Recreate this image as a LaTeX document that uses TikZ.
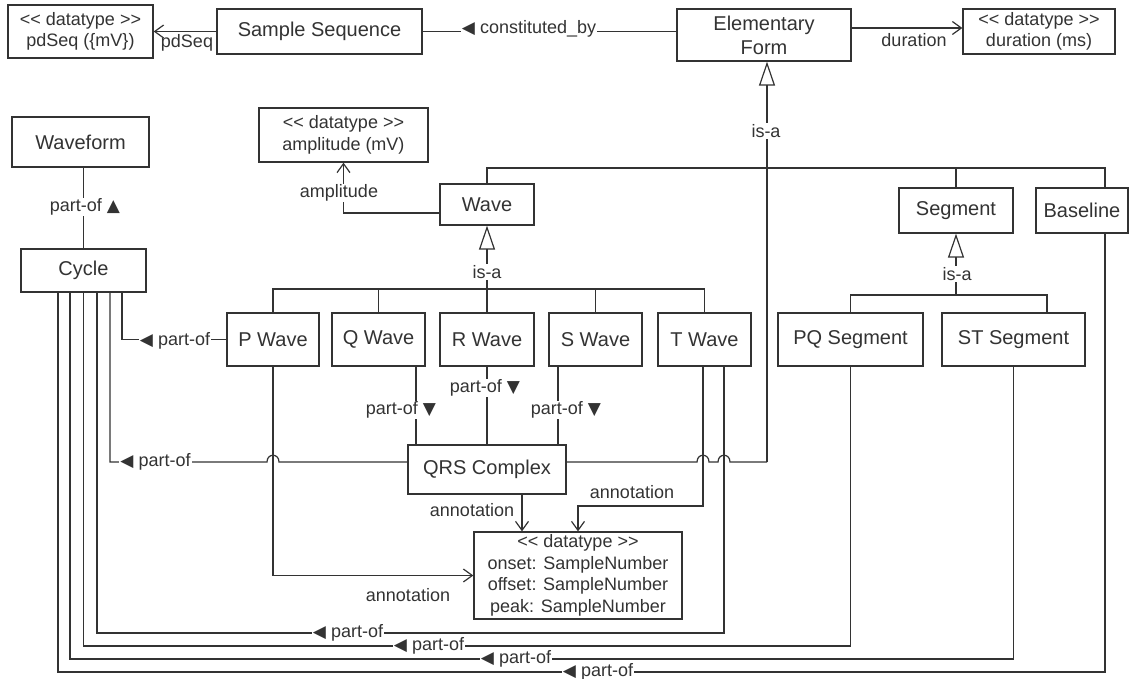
\documentclass[tikz,border=0pt]{standalone}
\usepackage{fontspec}
\setmainfont{Liberation Sans}
\newfontfamily\ecgsym{DejaVu Sans}
\usetikzlibrary{arrows.meta,calc}
\newcommand{\ecgdt}{\textless\kern0pt\textless\ datatype \textgreater\kern0pt\textgreater}
\newcommand{\ecgl}{{\ecgsym\fontsize{17}{17}\selectfont ◀}}
\newcommand{\ecgu}{{\ecgsym\fontsize{17}{17}\selectfont ▲}}
\newcommand{\ecgd}{{\ecgsym\fontsize{17}{17}\selectfont ▼}}
\tikzset{
  ecg class/.style={
    draw=black!80,line width=1.3pt,fill=white,inner sep=0pt,
    font=\fontsize{20}{24}\selectfont,text=black!80,align=center
  },
  ecg type/.style={ecg class,font=\fontsize{18}{21.5}\selectfont},
  ecg edge/.style={black!80,line width=1.2pt},
  ecg arrow/.style={ecg edge,-{Straight Barb[length=9pt,width=13pt]}},
  ecg isa/.style={ecg edge,-{Triangle[open,length=24pt,width=16pt]}},
  ecg label/.style={font=\fontsize{18}{21.5}\selectfont,text=black!80,inner sep=1pt},
  ecg gap/.style={ecg label,fill=white}
}

\begin{document}
\begin{tikzpicture}[x=1pt,y=-1pt]
  \useasboundingbox (0,0) rectangle (1145,679);
  % top row
  \node[ecg type,minimum width=145,minimum height=53] (pdseq) at (80.5,31.5) {\ecgdt\\pdSeq (\{mV\})};
  \node[ecg class,minimum width=205,minimum height=45] (sampleseq) at (319.5,31.5) {Sample Sequence};
  \node[ecg class,minimum width=174,minimum height=52] (elemform) at (764,35) {Elementary\\Form};
  \node[ecg type,minimum width=152,minimum height=45] (durtype) at (1039,31.5) {\ecgdt\\duration (ms)};
  % waves and segments
  \node[ecg class,minimum width=137,minimum height=50] (waveform) at (80.5,142) {Waveform};
  \node[ecg type,minimum width=169,minimum height=54] (amptype) at (343.5,135) {\ecgdt\\amplitude (mV)};
  \node[ecg class,minimum width=94,minimum height=41] (wave) at (487,204.5) {Wave};
  \node[ecg class,minimum width=114,minimum height=45] (segment) at (956,210.5) {Segment};
  \node[ecg class,minimum width=92,minimum height=45] (baseline) at (1082,210.5) {Baseline};
  \node[ecg class,minimum width=125,minimum height=43] (cycle) at (83.5,270.5) {Cycle};
  \node[ecg class,minimum width=92,minimum height=53] (pwave) at (273,339.5) {P Wave};
  \node[ecg class,minimum width=93,minimum height=53] (qwave) at (378.5,339.5) {Q Wave};
  \node[ecg class,minimum width=94,minimum height=53] (rwave) at (487,339.5) {R Wave};
  \node[ecg class,minimum width=93,minimum height=53] (swave) at (595.5,339.5) {S Wave};
  \node[ecg class,minimum width=93,minimum height=53] (twave) at (704.5,339.5) {T Wave};
  \node[ecg class,minimum width=145,minimum height=53] (pqseg) at (850.5,339.5) {PQ Segment};
  \node[ecg class,minimum width=143,minimum height=53] (stseg) at (1013.5,339.5) {ST Segment};
  \node[ecg class,minimum width=158,minimum height=49] (qrs) at (487,469.5) {QRS Complex};
  \node[ecg type,minimum width=208,minimum height=87] (anntype) at (578,575.5)
    {\ecgdt\\onset: SampleNumber\\offset: SampleNumber\\peak: SampleNumber};

  % bends and junctions
  \coordinate (isa hub) at (767,168);
  \coordinate (qrs hub) at (767,462);
  \coordinate (wave bar) at (487,289);
  \coordinate (seg bar) at (956,295);
  \coordinate (dur in) at ([yshift=3.5pt]durtype.west);
  \coordinate (st in) at ([xshift=33.5pt]stseg.north);
  \coordinate (base top) at ([xshift=23pt]baseline.north);
  \coordinate (base bot) at ([xshift=23pt]baseline.south);
  \coordinate (q out) at ([xshift=37.5pt]qwave.south);
  \coordinate (s out) at ([xshift=-37.5pt]swave.south);
  \coordinate (tw ann) at ([xshift=-1.5pt]twave.south);
  \coordinate (tw part) at ([xshift=19.5pt]twave.south);
  \coordinate (cy a) at ([xshift=-25.5pt]cycle.south);
  \coordinate (cy b) at ([xshift=-13.5pt]cycle.south);
  \coordinate (cy c) at (cycle.south);
  \coordinate (cy d) at ([xshift=13.5pt]cycle.south);
  \coordinate (cy e) at ([xshift=26.5pt]cycle.south);
  \coordinate (cy f) at ([xshift=38.5pt]cycle.south);
  \coordinate (row t) at (0,506);
  \coordinate (row a) at (0,633);
  \coordinate (row b) at (0,646);
  \coordinate (row c) at (0,659);
  \coordinate (row d) at (0,672);

  % associations along the top
  \draw[ecg arrow] (sampleseq.west) -- (pdseq.east |- sampleseq.west);
  \draw[ecg edge] (sampleseq.east) -- (elemform.west |- sampleseq.east);
  \draw[ecg arrow] (dur in -| elemform.east) -- (dur in);
  \draw[ecg edge] (waveform.south -| cycle.north) -- (cycle.north);
  \draw[ecg arrow] ([yshift=-8.5pt]wave.west) -| (amptype.south);

  % is-a trees
  \draw[ecg edge] (wave.north) |- (isa hub) -| (base top);
  \draw[ecg edge] (segment.north) -- (segment.north |- isa hub);
  \draw[ecg isa] (qrs hub) -- (elemform.south -| qrs hub);
  \draw[ecg edge] ([yshift=7.5pt]qrs.east) -- ($(tw ann |- qrs hub)+(-6,0)$)
    .. controls +(0,-9) and +(0,-9) .. ($(tw ann |- qrs hub)+(6,0)$)
    -- ($(tw part |- qrs hub)+(-6,0)$)
    .. controls +(0,-9) and +(0,-9) .. ($(tw part |- qrs hub)+(6,0)$)
    -- (qrs hub);
  \draw[ecg isa] (wave bar) -- (wave.south);
  \draw[ecg edge] (pwave.north) |- (wave bar) -| (twave.north)
    (qwave.north) -- (qwave.north |- wave bar)
    (rwave.north) -- (wave bar)
    (swave.north) -- (swave.north |- wave bar);
  \draw[ecg isa] (seg bar) -- (segment.south);
  \draw[ecg edge] (pqseg.north) |- (seg bar) -| (st in);

  % part-of links
  \draw[ecg edge] (cy f) |- (pwave.west);
  \draw[ecg edge] (cy e) |- ($(pwave.south |- qrs hub)+(-6,0)$)
    .. controls +(0,-9) and +(0,-9) .. ($(pwave.south |- qrs hub)+(6,0)$)
    -- ([yshift=7.5pt]qrs.west);
  \draw[ecg edge] (q out) -- (q out |- qrs.north)
    (rwave.south) -- (qrs.north)
    (s out) -- (s out |- qrs.north);
  \draw[ecg edge] (tw part) |- (row a -| cy d) -- (cy d);
  \draw[ecg edge] (pqseg.south) |- (row b -| cy c) -- (cy c);
  \draw[ecg edge] (stseg.south) |- (row c -| cy b) -- (cy b);
  \draw[ecg edge] (base bot) |- (row d -| cy a) -- (cy a);

  % annotations
  \draw[ecg arrow] ([xshift=35pt]qrs.south) -- ([xshift=35pt]qrs.south |- anntype.north);
  \draw[ecg arrow] (tw ann) |- (row t -| anntype.north) -- (anntype.north);
  \draw[ecg arrow] (pwave.south) |- (anntype.west);

  % labels
  \node[ecg label] (l pdseq) at (187,43) {pdSeq};
  \node[ecg gap] (l const) at (529,29) {\ecgl\ constituted\_by};
  \node[ecg label] (l dur) at (914,40) {duration};
  \node[ecg gap] (l isa ef) at (766,131) {is-a};
  \node[ecg gap] (l wf) at (85,207) {part-of \ecgu};
  \node[ecg gap] (l amp) at (339,193) {amplitude};
  \node[ecg gap] (l isa wave) at (487,272) {is-a};
  \node[ecg gap] (l isa seg) at (957,274) {is-a};
  \node[ecg gap] (l pw) at (175,341) {\ecgl\ part-of};
  \node[ecg gap] (l qrs) at (155.5,462) {\ecgl\ part-of};
  \node[ecg gap] (l qw) at (401,410) {part-of \ecgd};
  \node[ecg gap] (l rw) at (485,388) {part-of \ecgd};
  \node[ecg gap] (l sw) at (566,410) {part-of \ecgd};
  \node[ecg label] (l ann qrs) at (472,510) {annotation};
  \node[ecg label] (l ann tw) at (632,492) {annotation};
  \node[ecg label] (l ann pw) at (408,595) {annotation};
  \node[ecg gap] (l row a) at (348,633) {\ecgl\ part-of};
  \node[ecg gap] (l row b) at (429,646) {\ecgl\ part-of};
  \node[ecg gap] (l row c) at (516,659) {\ecgl\ part-of};
  \node[ecg gap] (l row d) at (598,672) {\ecgl\ part-of};
\end{tikzpicture}
\end{document}
